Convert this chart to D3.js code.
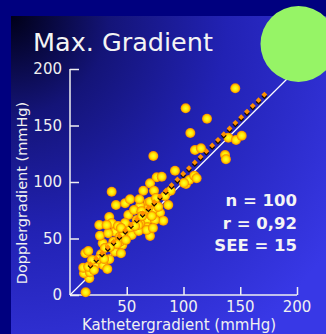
<!DOCTYPE html>
<html><head><meta charset="utf-8">
<script src="https://cdn.jsdelivr.net/npm/d3@7"></script>
<style>html,body{margin:0;padding:0;background:#00007f;}svg{display:block;}</style>
</head><body>
<script>
// ---- data ----
const title = "Max. Gradient";
const xLabel = "Kathetergradient (mmHg)";
const yLabel = "Dopplergradient (mmHg)";
const xTicks = [50, 100, 150, 200];
const yTicks = [0, 50, 100, 150, 200];
const statLines = ["n = 100", "r = 0,92", "SEE = 15"];
const kathX = [13.8,17.0,12.3,11.7,17.6,13.5,16.1,22.9,29.3,32.9,34.6,27.3,28.8,26.4,25.8,34.6,37.6,39.6,38.1,39.6,
  46.1,44.9,44.1,47.0,50.5,54.4,51.4,40.5,48.5,36.7,60.4,68.1,68.1,70.5,66.1,79.3,82.2,69.0,33.7,52.9,
  61.7,72.9,77.8,36.7,44.1,58.8,67.6,68.5,61.7,74.9,86.6,88.7,70.5,64.6,74.0,76.4,80.8,52.9,61.1,92.5,
  102.2,105.1,109.5,110.1,115.4,73.4,106.0,120.7,101.9,145.6,136.6,137.4,139.5,146.3,151.3,111.6,16.1,24.9,32.3,60.2,
  48.5,72.0,70.5,42.3,30.8,19.4,56.4,75.8,100.4,83.7,63.0,21.1,30.0,41.4,49.3,57.3,73.1,44.9,63.4,35.2];
const dopplerY = [2.4,14.8,19.2,24.2,20.1,36.9,38.9,27.2,26.5,23.0,31.6,36.0,45.8,52.5,61.9,69.0,62.6,56.0,47.2,38.3,
  44.2,36.9,51.6,53.1,57.5,53.1,70.8,79.6,81.2,91.4,56.6,66.4,59.9,52.2,72.8,72.8,65.8,81.7,54.6,59.9,
  63.5,75.2,78.1,63.5,47.2,66.4,57.5,76.1,78.8,66.4,79.6,92.3,98.8,92.3,92.3,104.2,104.7,84.7,84.7,110.0,
  98.2,101.8,105.6,128.3,129.8,123.0,143.4,156.0,165.2,182.9,123.9,120.1,139.2,137.2,141.0,103.3,25.0,31.6,61.9,61.9,
  63.7,69.9,82.6,61.1,41.6,31.0,75.2,85.8,99.1,87.6,74.2,22.1,31.9,45.1,48.7,61.1,59.3,59.3,69.9,42.5];
const regression = {slope: 0.98, intercept: 9.3, xFrom: 18, xTo: 175};
const identityRange = [0, 198];

// ---- layout ----
const W = 326, H = 334;
const svg = d3.select("body").append("svg").attr("width", W).attr("height", H);
const defs = svg.append("defs");

const bg = defs.append("radialGradient").attr("id","bg")
  .attr("cx","0").attr("cy","0").attr("r","1.25").attr("gradientUnits","objectBoundingBox");
bg.append("stop").attr("offset","0").attr("stop-color","#000018");
bg.append("stop").attr("offset","0.25").attr("stop-color","#141478");
bg.append("stop").attr("offset","0.55").attr("stop-color","#2222b4");
bg.append("stop").attr("offset","1").attr("stop-color","#3838e6");

const dotGrad = defs.append("radialGradient").attr("id","dot").attr("cx","0.5").attr("cy","0.5").attr("r","0.5");
dotGrad.append("stop").attr("offset","0").attr("stop-color","#ffff30");
dotGrad.append("stop").attr("offset","0.55").attr("stop-color","#ffe800");
dotGrad.append("stop").attr("offset","0.8").attr("stop-color","#ffb000");
dotGrad.append("stop").attr("offset","1").attr("stop-color","#f08000");

svg.append("rect").attr("width",W).attr("height",H).attr("fill","#00007f");
svg.append("rect").attr("x",11).attr("y",16).attr("width",W-11).attr("height",H-16).attr("fill","url(#bg)");

const x = d3.scaleLinear().domain([0,200]).range([70,297]);
const y = d3.scaleLinear().domain([0,200]).range([295,69]);

const font = "'DejaVu Sans', Verdana, sans-serif";

// title
svg.append("text").attr("x",33).attr("y",51).attr("fill","#f4f4f4")
  .attr("font-family",font).attr("font-size",25.5).text(title);

// axes
const xAxis = d3.axisTop(x).tickValues(xTicks).tickSize(8).tickFormat("");
const gx = svg.append("g").attr("transform",`translate(0,${y(0)})`).call(xAxis);
gx.select(".domain").remove();
gx.append("line").attr("x1",x(0)).attr("x2",x(200));
gx.selectAll("line").attr("stroke","#f0f0f0").attr("stroke-width",1.5);

const yAxis = d3.axisRight(y).tickValues(yTicks).tickSize(9).tickFormat("");
const gy = svg.append("g").attr("transform",`translate(${x(0)},0)`).call(yAxis);
gy.select(".domain").remove();
gy.append("line").attr("y1",y(0)).attr("y2",y(200));
gy.selectAll("line").attr("stroke","#f0f0f0").attr("stroke-width",1.5);

// tick labels
svg.append("g").selectAll("text").data(xTicks).join("text")
  .attr("x",d=>x(d)).attr("y",312).attr("text-anchor","middle")
  .attr("fill","#f0f0f0").attr("font-family",font).attr("font-size",15).text(d=>d);
svg.append("g").selectAll("text").data(yTicks).join("text")
  .attr("x",62).attr("y",d=>y(d)+5).attr("text-anchor","end")
  .attr("fill","#f0f0f0").attr("font-family",font).attr("font-size",15).text(d=>d);

// axis titles
svg.append("text").attr("x",179).attr("y",330).attr("text-anchor","middle")
  .attr("fill","#f0f0f0").attr("font-family",font).attr("font-size",15).text(xLabel);
svg.append("text").attr("transform",`translate(27,${(y(0)+y(200))/2+11}) rotate(-90)`).attr("text-anchor","middle")
  .attr("fill","#f0f0f0").attr("font-family",font).attr("font-size",14.5).text(yLabel);

// identity line
svg.append("line").attr("x1",x(identityRange[0])).attr("y1",y(identityRange[0]))
  .attr("x2",x(identityRange[1])).attr("y2",y(identityRange[1]))
  .attr("stroke","#ffffff").attr("stroke-width",1.2);

// points
const pts = kathX.map((k,i)=>({x:k, y:dopplerY[i]}));
svg.append("g").selectAll("circle").data(pts).join("circle")
  .attr("cx",d=>x(d.x)).attr("cy",d=>y(d.y)).attr("r",5).attr("fill","url(#dot)");

// regression line as diamond markers
const p0 = [x(regression.xFrom), y(regression.slope*regression.xFrom+regression.intercept)];
const p1 = [x(regression.xTo), y(regression.slope*regression.xTo+regression.intercept)];
const len = Math.hypot(p1[0]-p0[0], p1[1]-p0[1]);
const step = 8.1;
const n = Math.floor(len/step);
const marks = d3.range(n+1).map(i=>[p0[0]+(p1[0]-p0[0])*i*step/len, p0[1]+(p1[1]-p0[1])*i*step/len]);
const dia = "M0,-2.9L2.9,0L0,2.9L-2.9,0Z";
const gm = svg.append("g");
gm.selectAll("path.s").data(marks).join("path").attr("class","s")
  .attr("d",dia).attr("transform",d=>`translate(${d[0]},${d[1]+1.4})`).attr("fill","#1a0a00");
gm.selectAll("path.m").data(marks).join("path").attr("class","m")
  .attr("d",dia).attr("transform",d=>`translate(${d[0]},${d[1]-0.3})`).attr("fill","#ff9000");

// green circle
svg.append("circle").attr("cx",298.5).attr("cy",44).attr("r",38).attr("fill","#96f466");

// stats
svg.append("g").selectAll("text").data(statLines).join("text")
  .attr("x",297).attr("y",(d,i)=>206+i*22.5).attr("text-anchor","end")
  .attr("fill","#f4f4f4").attr("font-family",font).attr("font-weight","bold").attr("font-size",16.5).text(d=>d);
</script>
</body></html>
